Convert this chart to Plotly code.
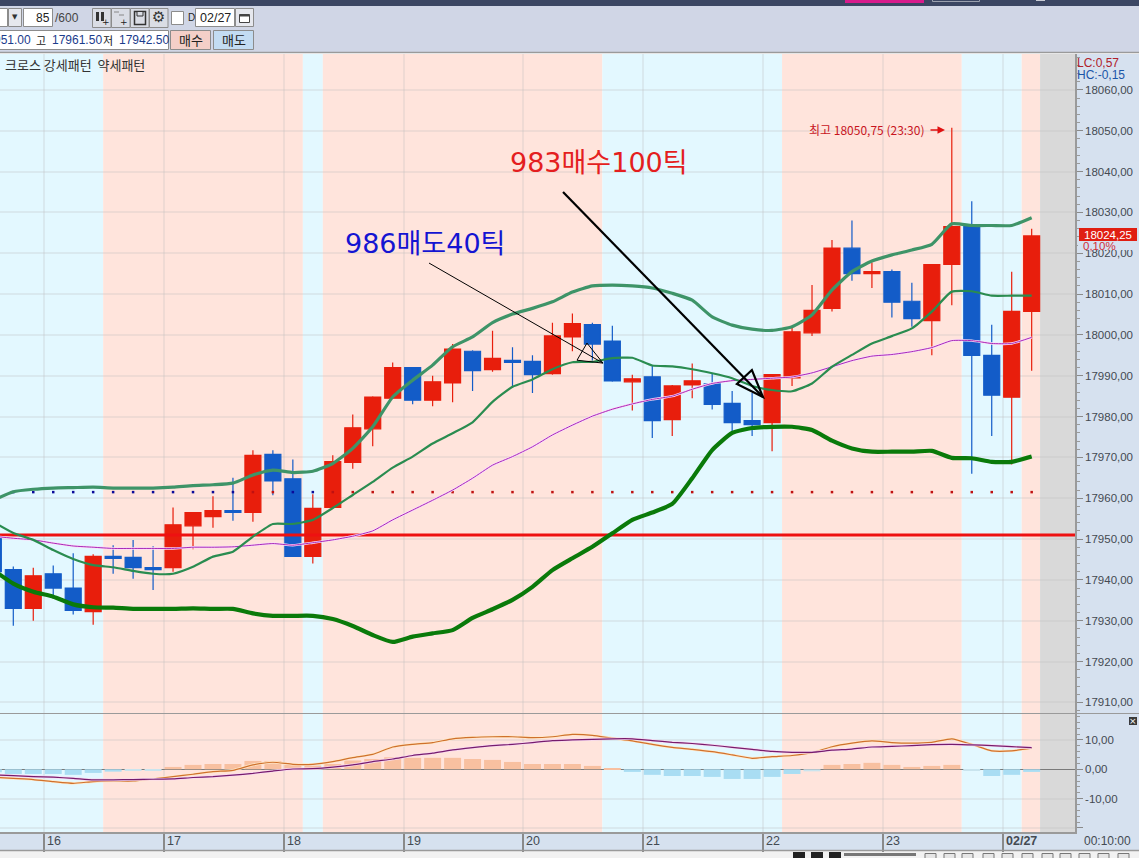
import plotly.graph_objects as go

W, H = 1139, 858
PANE_TOP, PANE_SPLIT, PANE_BOTTOM, AXIS_X = 54, 713, 832, 1075
X_RANGE = [-0.666, 53.17]
PRICE_RANGE = [17907.4, 18068.8]
OSC_RANGE = [-21.4, 19.2]

indices = list(range(-1, 52))
opens = [17950.25,17942.5,17933,17941.5,17938,17932.25,17945.75,17945.5,17943,17943,17953.25,17955.5,17957,17956.5,17970.75,17964.75,17945.75,17957.75,17968.75,17977,17984.5,17992,17984,17988.25,17996,17991.5,17993.75,17993.5,17990.5,17999.5,18002.5,17998.5,17988.5,17989.75,17979.25,17987.75,17988,17983.25,17979,17978.5,17989.5,18000.5,18006.5,18021.25,18015,18015.5,18008.25,18003.5,18017.25,18026.5,17995,17984.75,18005.75]
highs = [17950.5,17943.25,17943,17943.5,17946.5,17946.25,17948.5,17949.75,17948.25,17957.75,17956.5,17960.5,17965,17971.75,17971.75,17969.5,17961,17970.5,17980.5,17985,17993.25,17992,17990,17997.75,17996.25,18001,17997,17995,18003,18005.25,18003,18002.25,17990.25,17992.5,17987.75,17993,17990.5,17986.25,17985.75,17990.25,18001.75,18012.25,18023.25,18028,18017.75,18016,18012.75,18017.25,18050.75,18032.75,18002.5,18015.5,18026]
lows = [17942,17928.75,17930,17936,17931.5,17929,17941.5,17940.25,17937.5,17942,17947.5,17952.75,17954.5,17954.25,17960.75,17945.75,17944,17957.75,17967.25,17972.75,17984.5,17983,17982.5,17983.5,17986.25,17991,17987,17985.75,17990.25,17996,17993.75,17988.5,17981.5,17974.75,17975.25,17984.5,17981.75,17976.25,17975.25,17971.5,17987.5,17999.75,18005.75,18013.25,18011.5,18004.25,18002,17995,18007.25,17966,17975.25,17968.25,17991.25]
closes = [17942,17933,17941,17938,17932.5,17945.75,17945.25,17943,17942.5,17953.5,17956.5,17957,17956.5,17970.5,17964.25,17945.75,17957.5,17969,17977.25,17984.75,17992,17984,17988.5,17996.5,17991.25,17994.25,17993.25,17990.25,17999.75,18002.75,17997.75,17988.75,17989.25,17979,17987.5,17988.75,17983,17978.5,17978,17990.25,18000.75,18006,18021.25,18015,18015.5,18008,18004,18017.25,18026.5,17995,17985.25,18005.75,18024.25]

upper_band = [17959.5,17961.6,17962.2,17962.5,17962.6,17962.7,17962.5,17962.5,17962.5,17962.7,17963.1,17963.3,17963.7,17965.7,17966.9,17966.3,17966.6,17968.5,17972.2,17977.5,17984.8,17988.9,17992.6,17997.1,17999.5,18003,18005.1,18006.5,18008.1,18010.5,18012,18012.2,18012,18011.5,18010.2,18008.5,18004.4,18002.4,18001.4,18001.1,18002,18004.9,18011,18015.5,18018.1,18019.6,18020.8,18022.2,18027.2,18026.8,18026.8,18026.8,18028.7]
middle_line = [17954.2,17951.5,17949.8,17947.3,17945.1,17943.6,17943.1,17942.2,17941.5,17941.5,17943.2,17945.7,17946.9,17950.6,17953.7,17953.7,17954.7,17957.6,17960.8,17964,17967.5,17970.2,17973.4,17975.9,17978.6,17983.6,17987.3,17989.1,17991.6,17993.3,17993.4,17994.3,17994.4,17992.5,17992.3,17991.6,17990.6,17989.4,17987.5,17986.5,17986.2,17988.1,17992.2,17995.1,17997.9,17999.7,18001.6,18005.7,18010.6,18010.7,18009.6,18009.6,18009.6]
lower_band = [17942.4,17939.1,17937.1,17935.9,17934,17933.3,17933.2,17932.9,17932.9,17932.9,17933,17932.9,17932.9,17931.8,17931.2,17931.2,17931.2,17930.4,17928.7,17926.5,17924.8,17926.1,17926.9,17927.7,17930.7,17932.8,17935.1,17938.3,17942.4,17945.3,17948.1,17951.4,17954.7,17956.5,17958.6,17964.9,17971.8,17976,17977.2,17977.5,17977.5,17976.7,17974.1,17972.2,17971.4,17971.4,17971.4,17971.6,17969.9,17969.8,17968.9,17968.9,17970.2]
slow_line = [17950.7,17950.2,17949.8,17949,17948.3,17948,17947.7,17947.7,17947.7,17947.7,17948,17948,17948.1,17948.5,17948.9,17948.5,17949.1,17949.8,17950.7,17952,17954.7,17957.1,17959.5,17962,17964.9,17968.1,17970.2,17972.6,17975.5,17977.9,17980.1,17981.8,17983.1,17984.2,17985,17986.7,17988.1,17988.8,17989.1,17989.4,17989.7,17990.7,17992.2,17993.7,17994.8,17995.2,17995.9,17996.9,17998.6,17998.6,17997.9,17997.9,17999.4]

signal_dots_level = 17961.5
signal_dot_colors = ["#0A0A9A"] * 12 + ["#C01010", "#C01010", "#0A0A9A", "#0A0A9A"] + ["#C01010"] * 36
base_price = 17951

osc_hist = [-1.0,-1.6,-1.6,-1.6,-1.9,-1.25,-0.8,-0.45,-0.45,0.8,1.5,1.8,1.8,2.85,2.85,1.5,1.3,1.8,3,3.5,4.1,3.9,3.9,3.9,3.5,3.2,2.5,1.8,1.8,1.8,1.15,0.2,-0.9,-1.9,-2.3,-2.3,-2.6,-3.3,-3.3,-2.6,-1.6,-0.7,1.5,1.8,2.2,1.5,0.8,1.15,1.5,-0.45,-2.3,-1.9,-0.9]
osc_fast = [-2.7,-3.1,-3.5,-4.2,-4.8,-4.2,-4,-4,-3.3,-2.5,-1.7,-0.8,-0.35,1.5,2.4,1.7,1.7,2.6,4,5.1,7.6,8.5,9.1,10.4,10.9,11.1,11.1,10.8,11.1,11.9,11.6,10.6,9.7,8.5,7.5,6.8,6,4.9,3.75,4.3,4.7,5.7,7.7,8.9,9.7,9.1,8.9,9.2,10.4,8.5,6.3,6.3,7.2]
osc_slow = [-1.9,-2.2,-2.5,-2.7,-3.1,-3.6,-3.6,-3.5,-3.4,-3.3,-2.8,-2.5,-2,-1.4,-0.6,0.1,0.2,0.7,1.5,2.6,3.5,4.7,5.5,6.6,7.4,8.1,8.5,9.1,9.8,10,10.2,10.4,10.4,9.8,9.2,8.8,8.2,7.5,6.8,6.1,5.8,5.8,6.5,6.9,7.6,7.8,8.1,8.4,8.5,8.3,8.1,7.7,7.4]

price_ticks = list(range(17910, 18061, 10))
price_tick_text = [f"{v},00" for v in price_ticks]
osc_ticks = [-20, -10, 0, 10]
osc_tick_text = ["", "-10,00", "0,00", "10,00"]
date_positions = [1.55, 7.55, 13.55, 19.55, 25.55, 31.55, 37.55, 43.55, 49.55]
date_labels = ["16", "17", "18", "19", "20", "21", "22", "23", "<b>02/27</b>"]

band_edges = [-0.666, 4.5, 14.5, 15.5, 29.5, 38.5, 47.5, 50.5, 51.42, 53.17]
band_colors = ["#E3F8FF", "#FFE4DC", "#E3F8FF", "#FFE4DC", "#E3F8FF", "#FFE4DC", "#E3F8FF", "#FFE4DC", "#D9D9D9"]

thin_arrow = [(20.82, 18017.6), (29.53, 17993.1)]
thin_head = [(28.73, 17998.0), (28.23, 17993.8), (29.53, 17993.1)]
thick_arrow = [(27.53, 18035.0), (37.54, 17984.8)]
thick_head = [(36.99, 17991.4), (36.24, 17988.0), (37.54, 17984.8)]

RED, BLUE = "#E81E0C", "#135CC8"
KR = "Noto Sans CJK KR"
NUM = "Liberation Sans"
BIG = "DejaVu Sans, Noto Sans CJK KR"
AXIS_TEXT = "#444A52"
AXIS_BG = "#D6E1EF"
TOOL_BG = "#D0D6E6"
SMOOTH = dict(shape="spline", smoothing=0.5)


def px(x):
    return x / W


def py(y):
    return 1 - y / H


shapes, notes = [], []


def rect(x0, y0, x1, y1, fill, line=None, lw=1, layer="below"):
    shapes.append(dict(type="rect", xref="paper", yref="paper", x0=px(x0), x1=px(x1), y0=py(y0), y1=py(y1),
                       fillcolor=fill, line=dict(color=line or fill, width=lw if line else 0), layer=layer))


def hline(x0, x1, y, color, lw=1, layer="above"):
    shapes.append(dict(type="line", xref="paper", yref="paper", x0=px(x0), x1=px(x1), y0=py(y), y1=py(y),
                       line=dict(color=color, width=lw), layer=layer))


def text(x, y, s, color="#333333", size=12, family=KR, anchor="left"):
    notes.append(dict(xref="paper", yref="paper", x=px(x), y=py(y), text=s, showarrow=False, xanchor=anchor,
                      yanchor="middle", borderpad=0, font=dict(family=family, size=size, color=color)))


# window chrome
rect(0, 0, W, 6, "#3B4663")
rect(845, 0, 924, 3, "#D81B8C")
rect(932.5, -2, 979.5, 1.5, "#3B4663", "#9AA0AE")
rect(1036, 0, 1045, 1, "#C9CCD6")
rect(0, 6, W, 53, TOOL_BG)
hline(0, W, 52.5, "#9A9A9A", 1.5)
rect(AXIS_X, PANE_TOP, W, PANE_BOTTOM, AXIS_BG)
rect(0, PANE_BOTTOM, W, 850, AXIS_BG)
rect(0, 850, W, H, "#F2F2F2")
hline(0, W, 850.5, "#9A9A9A", 1.5)

# toolbar widgets
rect(-3, 8.5, 7.5, 26.5, "#FFFFFF", "#8C8C8C")
rect(8.5, 8.5, 21.5, 26.5, "#E6E8EE", "#8C8C8C")
text(15, 17, "▼", "#333333", 7, "DejaVu Sans", "center")
rect(23.5, 8.5, 52.5, 26.5, "#FFFFFF", "#8C8C8C")
text(51, 18, "85", "#222222", 12, NUM, "right")
text(53.5, 18, "/600", "#444444", 12, NUM)
for x0 in (92.5, 111.5, 130.5, 149.5):
    rect(x0, 8.5, x0 + 18.5, 27.5, "#DADDE5", "#8C8C8C")
rect(96, 12, 99, 21, "#333333")
rect(101, 12, 104, 21, "#333333")
text(106, 22, "+", "#222222", 9, "DejaVu Sans", "center")
hline(114, 119, 12, "#888888", 1, "below")
hline(119, 124, 15, "#888888", 1, "below")
text(124, 22, "+", "#222222", 9, "DejaVu Sans", "center")
rect(134.5, 11.5, 145.5, 24.5, "#DADDE5", "#333333", 1.5)
rect(137, 11.5, 143, 16, "#DADDE5", "#333333", 1)
text(158.5, 17.5, "⚙", "#333333", 15, "DejaVu Sans", "center")
rect(171.5, 11.5, 183.5, 24.5, "#FFFFFF", "#8C8C8C")
text(187, 17, "D", "#222222", 10, NUM)
rect(195.5, 8.5, 234.5, 26.5, "#FFFFFF", "#8C8C8C")
text(199, 18, "02/27", "#222222", 12.5, NUM)
rect(235.5, 8.5, 253.5, 26.5, "#E6E8EE", "#8C8C8C")
rect(239.5, 14.5, 249.5, 22.5, "#FFFFFF", "#444444")
hline(239.5, 249.5, 15.5, "#444444", 2, "below")
rect(-3, 30.5, 168.5, 49.5, "#FFFFFF", "#8C8C8C")
text(32, 40, "951.00", "#1B3C8C", 12, NUM, "right")
text(35, 40, "고", "#222222", 11)
text(51, 40, "17961.50", "#1B3C8C", 12, NUM)
text(102, 40, "저", "#222222", 11)
text(118, 40, "17942.50", "#1B3C8C", 12, NUM)
rect(170.5, 30.5, 210.5, 49.5, "#F4CFC8", "#8C8C8C")
text(190.5, 40, "매수", "#222222", 13, KR, "center")
rect(213.5, 30.5, 253.5, 49.5, "#C3DCF2", "#8C8C8C")
text(233.5, 40, "매도", "#222222", 13, KR, "center")

# background bands, from the axis scale
for left, right, colour in zip(band_edges[:-1], band_edges[1:], band_colors):
    shapes.append(dict(type="rect", xref="x", yref="paper", x0=left, x1=right, y0=py(PANE_BOTTOM), y1=py(PANE_TOP),
                       fillcolor=colour, line=dict(width=0), layer="below"))

# pane separator and hand drawn arrows
hline(0, W, PANE_SPLIT + 0.5, "#9A9A9A", 1)
for (a, b), lw in ((thin_arrow, 1), (thick_arrow, 2.2)):
    shapes.append(dict(type="line", xref="x", yref="y", x0=a[0], y0=a[1], x1=b[0], y1=b[1],
                       line=dict(color="#000000", width=lw), layer="above"))
for tri, lw in ((thin_head, 1), (thick_head, 2.2)):
    path = "M " + " L ".join(f"{a},{b}" for a, b in tri) + " Z"
    shapes.append(dict(type="path", xref="x", yref="y", path=path, line=dict(color="#000000", width=lw), layer="above"))

# legend and side labels
text(4, 64, "크로스 강세패턴  약세패턴", "#333333", 13)
text(1076, 63, "LC:0,57", "#B0202A", 12, NUM)
text(1076, 75, "HC:-0,15", "#1B55A8", 12, NUM)
text(1083, 841, "00:10:00", AXIS_TEXT, 12, NUM)
rect(1078, 241, W, 250, AXIS_BG, layer="above")
rect(1079, 228, 1137, 241, "#E01E12", layer="above")
text(1083, 234.5, "18024,25", "#FFFFFF", 11.5, NUM)
text(1082, 246, "0,10%", "#D0303A", 11.5, NUM)
rect(1129, 717, 1137, 725, "#3A3A3A")
text(1133, 721, "×", "#FFFFFF", 9, "DejaVu Sans", "center")

# trade notes
text(509, 163, "983매수100틱", "#E41E20", 27, BIG)
text(344, 243, "986매도40틱", "#1414D2", 27, BIG)
text(808, 130, "최고 18050,75 (23:30)", "#C8141E", 12, KR)
notes.append(dict(xref="paper", yref="paper", x=px(945), y=py(130), ax=-16, ay=0,
                  text="", showarrow=True, arrowhead=2, arrowsize=1, arrowwidth=1.5, arrowcolor="#E01010"))

# date labels
for pos, lab in zip(date_positions, date_labels):
    notes.append(dict(xref="x", yref="paper", x=pos, y=py(841), text=lab, showarrow=False, xanchor="left", xshift=1,
                      yanchor="middle", font=dict(family=NUM, size=12.5, color=AXIS_TEXT)))

# bottom control strip
for x0 in (793, 811, 829):
    rect(x0, 852, x0 + 12, H + 2, "#222222")
rect(844, 853, 916, 856, "#777777")
for x0 in (925, 944, 962, 983, 1002, 1022, 1042, 1060, 1079, 1098, 1118):
    rect(x0, 853.5, x0 + 11, H + 2, "#E6E6E6", "#777777")

fig = go.Figure()
fig.add_trace(go.Bar(x=indices, y=osc_hist, xaxis="x", yaxis="y2", width=0.85,
                     marker=dict(color=["#F8C0A0" if v > 0 else ("#C9E4EE" if v > -0.8 else "#A9DDF3") for v in osc_hist], line=dict(width=0))))
for vals, halo, colour in ((osc_fast, "#FFE8C8", "#D0702C"), (osc_slow, "#F9D8F2", "#761C6C")):
    fig.add_trace(go.Scatter(x=indices, y=vals, xaxis="x", yaxis="y2", mode="lines", line=dict(color=halo, width=2.6, **SMOOTH)))
    fig.add_trace(go.Scatter(x=indices, y=vals, xaxis="x", yaxis="y2", mode="lines", line=dict(color=colour, width=1.2, **SMOOTH)))

fig.add_trace(go.Scatter(x=[X_RANGE[0], X_RANGE[1]], y=[base_price, base_price], xaxis="x", yaxis="y", mode="lines",
                         line=dict(color="#EE1111", width=3)))
fig.add_trace(go.Candlestick(x=indices, open=opens, high=highs, low=lows, close=closes, xaxis="x", yaxis="y",
                             whiskerwidth=0,
                             increasing=dict(line=dict(color=RED, width=1.2), fillcolor=RED),
                             decreasing=dict(line=dict(color=BLUE, width=1.2), fillcolor=BLUE)))
fig.add_trace(go.Scatter(x=indices[1:], y=[signal_dots_level] * (len(indices) - 1), xaxis="x", yaxis="y", mode="markers",
                         marker=dict(symbol="square", size=2.5, color=signal_dot_colors)))
fig.add_trace(go.Scatter(x=indices, y=slow_line, xaxis="x", yaxis="y", mode="lines", line=dict(color="#FBDDF8", width=2.4, **SMOOTH)))
fig.add_trace(go.Scatter(x=indices, y=slow_line, xaxis="x", yaxis="y", mode="lines", line=dict(color="#A828B8", width=1, **SMOOTH)))
fig.add_trace(go.Scatter(x=indices, y=middle_line, xaxis="x", yaxis="y", mode="lines", line=dict(color="#2A8C50", width=2.2, **SMOOTH)))
fig.add_trace(go.Scatter(x=indices, y=upper_band, xaxis="x", yaxis="y", mode="lines", line=dict(color="#3E9468", width=3.2, **SMOOTH)))
fig.add_trace(go.Scatter(x=indices, y=lower_band, xaxis="x", yaxis="y", mode="lines", line=dict(color="#0A7A0A", width=4.2, **SMOOTH)))

GRID = "rgba(190,190,190,0.24)"
fig.update_layout(
    width=W, height=H, margin=dict(l=0, r=0, t=0, b=0), showlegend=False, boxgap=0.2, boxgroupgap=0,
    paper_bgcolor="#FFFFFF", plot_bgcolor="rgba(0,0,0,0)", shapes=shapes, annotations=notes,
    xaxis=dict(domain=[0, AXIS_X / W], range=X_RANGE, anchor="y2", rangeslider=dict(visible=False),
               tickmode="array", tickvals=date_positions, ticktext=[""] * len(date_positions), ticks="outside",
               ticklen=18, tickcolor="#8A8A8A", tickwidth=1.5, showgrid=True, gridcolor=GRID, gridwidth=1.5,
               showline=True, linecolor="#9A9A9A", linewidth=1.5, zeroline=False),
    yaxis=dict(domain=[py(PANE_SPLIT), py(PANE_TOP)], range=PRICE_RANGE, anchor="x", side="right",
               tickmode="array", tickvals=price_ticks, ticktext=price_tick_text, ticks="outside", ticklen=6,
               tickcolor="#8A8A8A", showgrid=True, gridcolor=GRID, gridwidth=1.5, zeroline=False, showline=True,
               linecolor="#9A9A9A", linewidth=1.5, tickfont=dict(family=NUM, size=11.5, color=AXIS_TEXT),
               minor=dict(tickmode="linear", dtick=2, tick0=17910, ticks="outside", ticklen=3, tickcolor="#9A9A9A", showgrid=False)),
    yaxis2=dict(domain=[py(PANE_BOTTOM), py(PANE_SPLIT)], range=OSC_RANGE, anchor="x", side="right",
                tickmode="array", tickvals=osc_ticks, ticktext=osc_tick_text, ticks="outside", ticklen=6,
                tickcolor="#8A8A8A", showgrid=True, gridcolor=GRID, gridwidth=1.5, zeroline=True, zerolinecolor="#7A7A7A",
                zerolinewidth=1, showline=True, linecolor="#9A9A9A", linewidth=1.5,
                tickfont=dict(family=NUM, size=11.5, color=AXIS_TEXT),
                minor=dict(tickmode="linear", dtick=2, tick0=0, ticks="outside", ticklen=3, tickcolor="#9A9A9A", showgrid=False)),
)

fig.write_html("out.html", config={"displayModeBar": False},
               post_script="document.body.style.margin='0';document.body.style.overflow='hidden';")
